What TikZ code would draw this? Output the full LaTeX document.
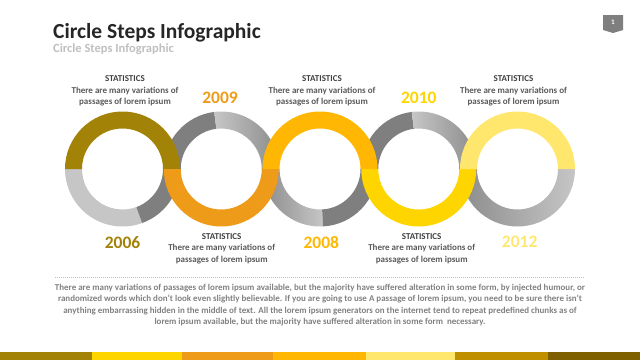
\documentclass[tikz,border=0pt]{standalone}
\usepackage{fontspec}
\setmainfont{Carlito}
\usetikzlibrary{calc}
\definecolor{cOlive}{HTML}{A38208}
\definecolor{cOrange}{HTML}{EE9B1A}
\definecolor{cAmber}{HTML}{FFB703}
\definecolor{cYellow}{HTML}{FFD500}
\definecolor{cLight}{HTML}{FFE76E}
\definecolor{cGold}{HTML}{C08F00}
\definecolor{cBrown}{HTML}{7F6000}
\definecolor{cDark}{HTML}{7F7F7F}
\definecolor{cPale}{HTML}{C6C6C6}
\definecolor{cMid}{HTML}{8C8C8C}
\definecolor{cHead}{HTML}{404040}
\definecolor{cText}{HTML}{595959}
\definecolor{cPara}{HTML}{808080}
\definecolor{cSub}{HTML}{BFBFBF}
\newcommand\ringseg[5]{%
  \path[#5] (#1,#2) ++(#3:57.5) arc[start angle=#3, end angle=#4, radius=57.5]
    -- ($(#1,#2)+(#4:40.5)$) arc[start angle=#4, end angle=#3, radius=40.5] -- cycle;}
\tikzset{
  stat/.style={align=center, text=cText, inner sep=0pt,
    font=\bfseries\fontsize{9}{11.4}\selectfont},
  year/.style={inner sep=0pt, font=\bfseries\fontsize{17.5}{17.5}\selectfont},
}
\begin{document}
\begin{tikzpicture}[x=1pt,y=1pt]
\useasboundingbox (0,0) rectangle (640,360);
% title
\node[anchor=base west, inner sep=0pt, text=black!85, font=\bfseries\fontsize{21.5}{21.5}\selectfont] (title) at (53,322) {Circle Steps Infographic};
\node[anchor=base west, inner sep=0pt, text=cSub, font=\bfseries\fontsize{12.5}{12.5}\selectfont] (subtitle) at (53,307.5) {Circle Steps Infographic};
% slide number
\fill[cDark] (603,345) -- (623,345) -- (623,330) -- (613,327) -- (603,330) -- cycle;
\node[text=white, inner sep=0pt, font=\bfseries\fontsize{7}{7}\selectfont] (num) at (613,337.5) {1};
% gray halves
\ringseg{122.5}{191}{180}{290}{fill=cPale}
\ringseg{122.5}{191}{290}{360}{fill=cDark}
\ringseg{221.25}{191}{97}{180}{fill=cDark}
\ringseg{221.25}{191}{0}{97}{left color=cPale, right color=cMid}
\ringseg{320}{191}{180}{273}{left color=cMid, right color=cPale}
\ringseg{320}{191}{273}{360}{fill=cDark}
\ringseg{418.75}{191}{97}{180}{fill=cDark}
\ringseg{418.75}{191}{0}{97}{left color=cPale, right color=cMid}
\ringseg{517.5}{191}{180}{360}{left color=cMid, right color=cPale}
% coloured halves
\ringseg{122.5}{191}{0}{180}{fill=cOlive}
\ringseg{221.25}{191}{180}{360}{fill=cOrange}
\ringseg{320}{191}{0}{180}{fill=cAmber}
\ringseg{418.75}{191}{180}{360}{fill=cYellow}
\ringseg{517.5}{191}{0}{180}{fill=cLight}
% years
\node[year, text=cOlive] (y2006) at (122.5,117.7) {2006};
\node[year, text=cOrange] (y2009) at (220,261.7) {2009};
\node[year, text=cAmber] (y2008) at (321.3,117.7) {2008};
\node[year, text=cYellow] (y2010) at (418.8,261.7) {2010};
\node[year, text=cLight] (y2012) at (519.7,117.7) {2012};
% statistics
\node[stat] (s1) at (125,269) {{\color{cHead}STATISTICS}\\There are many variations of\\passages of lorem ipsum};
\node[stat] (s3) at (322,269) {{\color{cHead}STATISTICS}\\There are many variations of\\passages of lorem ipsum};
\node[stat] (s5) at (513.5,269) {{\color{cHead}STATISTICS}\\There are many variations of\\passages of lorem ipsum};
\node[stat] (s2) at (221.7,111.5) {{\color{cHead}STATISTICS}\\There are many variations of\\passages of lorem ipsum};
\node[stat] (s4) at (421.7,111.5) {{\color{cHead}STATISTICS}\\There are many variations of\\passages of lorem ipsum};
% dotted rule
\coordinate (dl) at (55,83);
\coordinate (dr) at (585,83);
\draw[cSub, line width=0.7pt, dash pattern=on 0.7pt off 1.3pt] (dl) -- (dr);
% paragraph
\node[align=center, text=cPara, inner sep=0pt, font=\bfseries\fontsize{8.95}{11.5}\selectfont] (para) at (320,55) {There are many variations of passages of lorem ipsum available, but the majority have suffered alteration in some form, by injected humour, or\\randomized words which don't look even slightly believable. If you are going to use A passage of lorem ipsum, you need to be sure there isn't\\anything embarrassing hidden in the middle of text. All the lorem ipsum generators on the internet tend to repeat predefined chunks as of\\lorem ipsum available, but the majority have suffered alteration in some form\ \ necessary.};
% bottom bar
\fill[cOlive] (0,0) rectangle (92,8);
\fill[cYellow] (92,0) rectangle (182,8);
\fill[cOrange] (182,0) rectangle (273,8);
\fill[cAmber] (273,0) rectangle (366,8);
\fill[cLight] (366,0) rectangle (455,8);
\fill[cGold] (455,0) rectangle (548,8);
\fill[cBrown] (548,0) rectangle (640,8);
\end{tikzpicture}
\end{document}
